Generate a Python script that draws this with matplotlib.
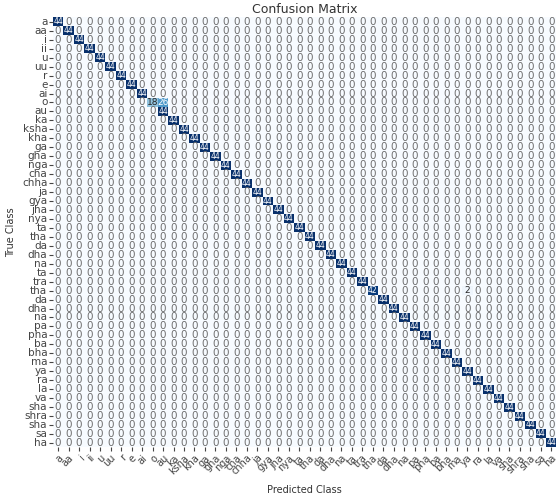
import matplotlib
matplotlib.use('Agg')
import matplotlib.pyplot as plt
import numpy as np
import seaborn as sns

classes = ['a', 'aa', 'i', 'ii', 'u', 'uu', 'r', 'e', 'ai', 'o', 'au', 'ka', 'ksha', 'kha',
           'ga', 'gha', 'nga', 'cha', 'chha', 'ja', 'gya', 'jha', 'nya', 'ta', 'tha', 'da',
           'dha', 'na', 'ta', 'tra', 'tha', 'da', 'dha', 'na', 'pa', 'pha', 'ba', 'bha', 'ma',
           'ya', 'ra', 'la', 'va', 'sha', 'shra', 'sha', 'sa', 'ha']

# correct predictions per class
diag_counts = [44] * len(classes)
diag_counts[9] = 18
diag_counts[30] = 42

# misclassifications: (true index, predicted index, count)
off_diag = [(9, 10, 26), (30, 39, 2)]

cm = np.diag(diag_counts)
for r, c, v in off_diag:
    cm[r, c] = v

fig = plt.figure(figsize=(5.56, 4.96), dpi=100)
ax = fig.add_axes([0.095, 0.098, 0.906, 0.867])
sns.heatmap(cm, annot=True, fmt='d', cmap='Blues', cbar=False, ax=ax,
            xticklabels=classes, yticklabels=classes,
            annot_kws={'size': 7.5})

# zeros are drawn in grey, large counts in a smaller white font
for t in ax.texts:
    v = int(t.get_text())
    if v == 0:
        t.set_color('#6e6e6e')
    elif v > 30:
        t.set_fontsize(5.5)
    else:
        t.set_fontsize(6.5)

ax.set_title('Confusion Matrix', fontsize=9, pad=3, color='#333333')
ax.set_xlabel('Predicted Class', fontsize=7, labelpad=6, color='#333333')
ax.set_ylabel('True Class', fontsize=7, labelpad=4, color='#333333')
ax.tick_params(axis='x', labelsize=7, length=3, pad=1, colors='#444444')
ax.tick_params(axis='y', labelsize=7.5, length=3, pad=1, colors='#444444')
plt.setp(ax.get_xticklabels(), rotation=45, ha='right', rotation_mode='anchor')
plt.setp(ax.get_yticklabels(), rotation=0)
fig.savefig('out.png', dpi=100)
